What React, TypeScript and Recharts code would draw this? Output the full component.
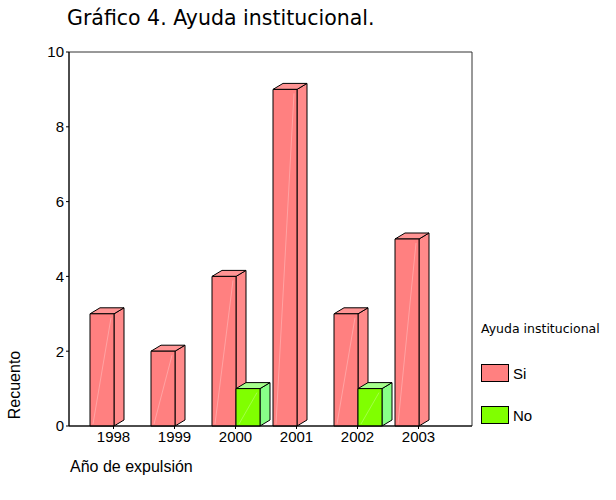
import { BarChart, Bar, XAxis, YAxis, ReferenceArea } from 'recharts';

const years = ['1998', '1999', '2000', '2001', '2002', '2003'];
const siCounts = [3, 2, 4, 9, 3, 5];
const noCounts = [0, 0, 1, 0, 1, 0];
const yTicks = [0, 2, 4, 6, 8, 10];

const data = years.map((year, i) => ({ year, si: siCounts[i], no: noCounts[i] }));
const frameEnd = years.length - 1;

const DX = 10;
const DY = 6;

const makeBox = (front: string, side: string, top: string) => (props: any) => {
    const { x, y, width: w, height: h } = props;
    if (!h || h <= 0) return null;
    return (
        <g stroke="#000" strokeWidth={1} strokeLinejoin="round">
            <polygon points={`${x + w},${y} ${x + w + DX},${y - DY} ${x + w + DX},${y + h - DY} ${x + w},${y + h}`} fill={side} />
            <polygon points={`${x},${y} ${x + DX},${y - DY} ${x + w + DX},${y - DY} ${x + w},${y}`} fill={top} />
            <rect x={x} y={y} width={w} height={h} fill={front} />
            <line x1={x + 3} y1={y + h - 2} x2={x + w - 3} y2={y + 4} stroke="#fff" strokeOpacity={0.35} strokeWidth={0.8} />
        </g>
    );
};

const SiShape = makeBox('#ff8080', '#ff8a8a', '#ff9494');
const NoShape = makeBox('#80ff00', '#88ff88', '#a6ff8c');

const font = 'Liberation Sans, Arial, sans-serif';

export default function App() {
    return (
        <div style={{ position: 'absolute', left: 0, top: 0, width: 616, height: 500, background: '#fff' }}>
            <div style={{ position: 'absolute', left: 67, top: 6, fontFamily: 'DejaVu Sans', fontSize: 20.5, color: '#000', whiteSpace: 'nowrap' }}>
                Gráfico 4. Ayuda institucional.
            </div>
            <BarChart
                width={616}
                height={500}
                data={data}
                margin={{ top: 52, right: 144, left: 29, bottom: 44 }}
                barGap={0}
                barCategoryGap={0}
                style={{ fontFamily: font }}
            >
                <XAxis xAxisId="frame" type="number" domain={[0, frameEnd]} allowDataOverflow hide />
                <ReferenceArea xAxisId="frame" x1={0} x2={frameEnd} y1={0} y2={10} fill="none" stroke="#333" strokeWidth={1} ifOverflow="visible" />
                <XAxis
                    dataKey="year"
                    height={30}
                    padding={{ left: 14, right: 23 }}
                    tickLine={{ stroke: '#000' }}
                    tickSize={3}
                    axisLine={{ stroke: '#000' }}
                    tick={{ fill: '#000', fontSize: 15 }}
                    interval={0}
                />
                <YAxis
                    width={40}
                    domain={[0, 10]}
                    ticks={yTicks}
                    tickSize={3}
                    tickLine={{ stroke: '#000' }}
                    axisLine={{ stroke: '#000' }}
                    tick={{ fill: '#000', fontSize: 15 }}
                />
                <Bar dataKey="si" name="Si" barSize={24} fill="#ff8080" shape={SiShape} isAnimationActive={false} />
                <Bar dataKey="no" name="No" barSize={24} fill="#80ff00" shape={NoShape} isAnimationActive={false} />
            </BarChart>
            <div style={{ position: 'absolute', left: 481, top: 321, fontFamily: font, fontSize: 15, color: '#000' }}>
                <div style={{ fontFamily: 'DejaVu Sans', fontSize: 12.5, marginBottom: 28 }}>Ayuda institucional</div>
                <div style={{ display: 'flex', alignItems: 'center', marginBottom: 24 }}>
                    <div style={{ width: 26, height: 16, background: '#ff8080', border: '1px solid #000', marginRight: 4 }} />
                    <span>Si</span>
                </div>
                <div style={{ display: 'flex', alignItems: 'center' }}>
                    <div style={{ width: 26, height: 16, background: '#80ff00', border: '1px solid #000', marginRight: 4 }} />
                    <span>No</span>
                </div>
            </div>
            <div style={{ position: 'absolute', left: 15, top: 385, transform: 'translate(-50%, -50%) rotate(-90deg)', fontFamily: font, fontSize: 16, whiteSpace: 'nowrap' }}>
                Recuento
            </div>
            <div style={{ position: 'absolute', left: 70, top: 458, fontFamily: font, fontSize: 16, whiteSpace: 'nowrap' }}>
                Año de expulsión
            </div>
        </div>
    );
}
